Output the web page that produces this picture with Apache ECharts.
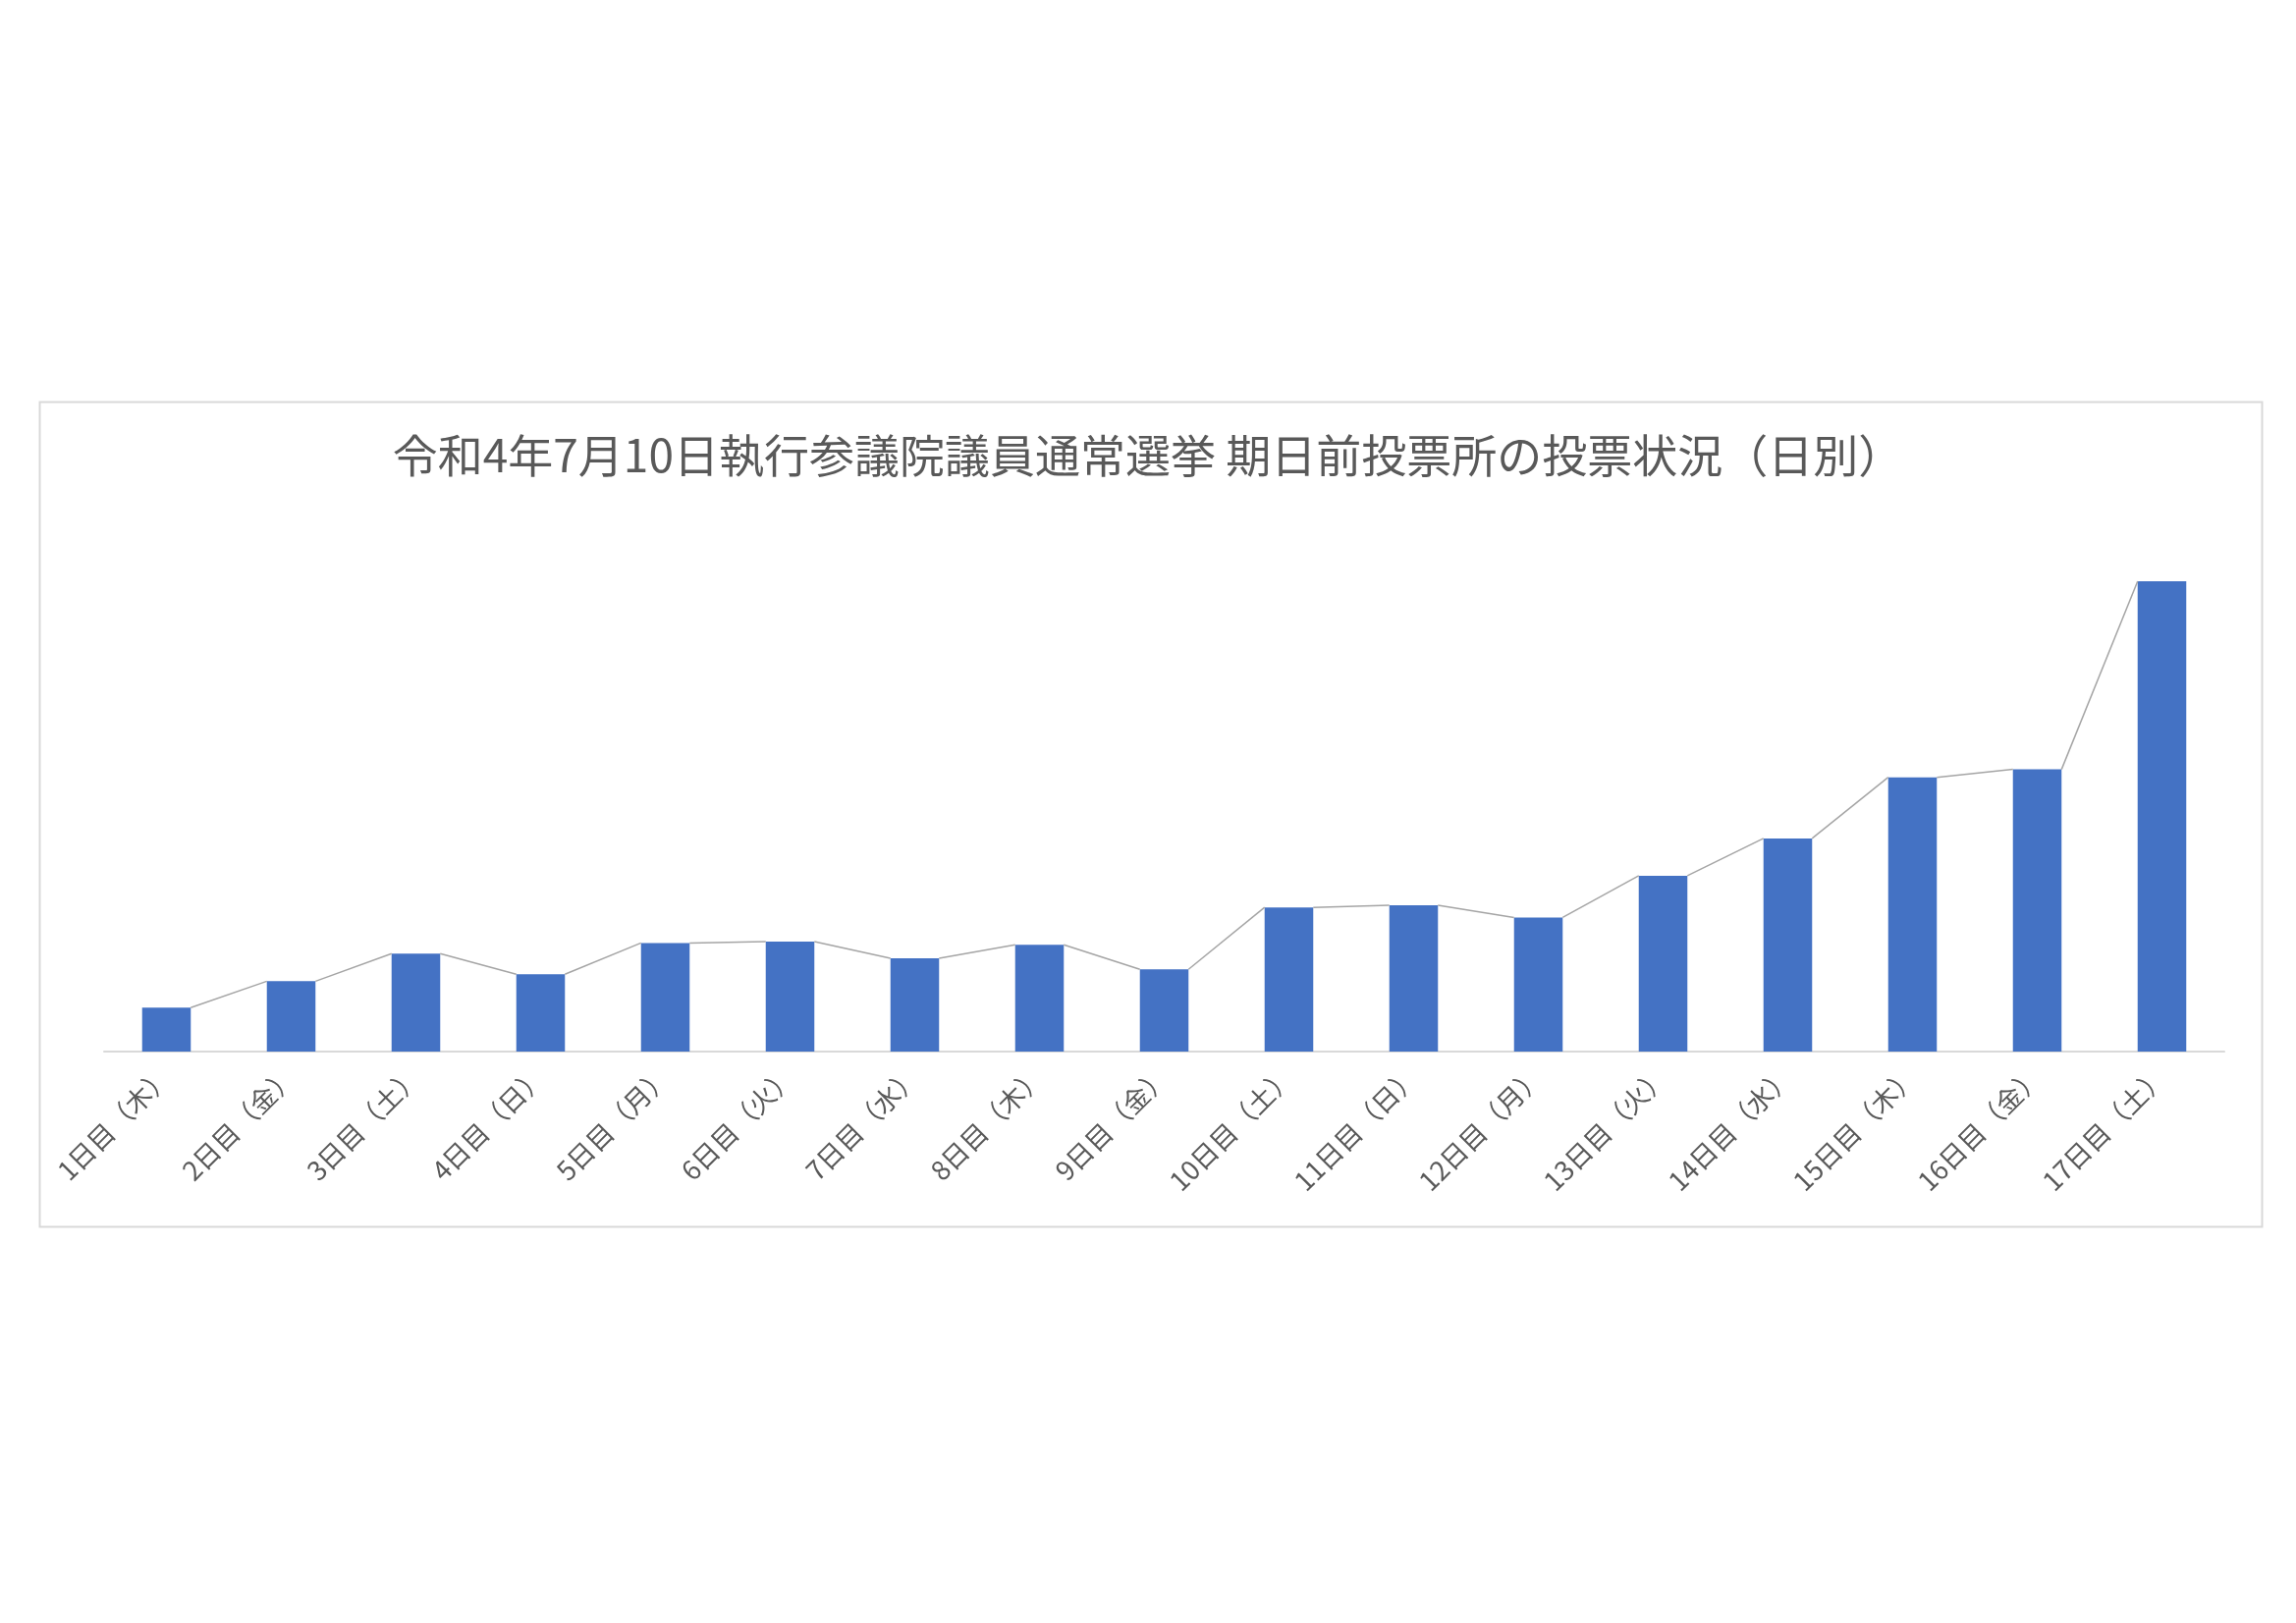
<!DOCTYPE html>
<html>
<head>
<meta charset="utf-8">
<title>期日前投票所の投票状況（日別）</title>
<script src="https://cdn.jsdelivr.net/npm/echarts@6/dist/echarts.min.js"></script>
<style>
    html, body { margin: 0; padding: 0; background: #fff; }
    #chart { width: 2338px; height: 1653px; }
</style>
</head>
<body>
<div id="chart"></div>
<script>
// 日別の期日前投票者数（グラフから読み取った概算値）
const days = [
    '1日目（木）', '2日目（金）', '3日目（土）', '4日目（日）', '5日目（月）', '6日目（火）',
    '7日目（水）', '8日目（木）', '9日目（金）', '10日目（土）', '11日目（日）', '12日目（月）',
    '13日目（火）', '14日目（水）', '15日目（木）', '16日目（金）', '17日目（土）'
];
const voters = [1000, 1600, 2230, 1760, 2470, 2500, 2120, 2430, 1870, 3280, 3330, 3050, 4000, 4850, 6240, 6420, 10700];
const chartTitle = '令和4年7月10日執行参議院議員通常選挙 期日前投票所の投票状況（日別）';

const FONT = '"Noto Sans CJK JP", "Noto Sans", sans-serif';
const BAR_RATIO = 0.39;

// 系列線: 棒の右上から次の棒の左上へ
const links = voters.slice(0, -1).map((v, i) => [i, v, i + 1, voters[i + 1]]);

const chart = echarts.init(document.getElementById('chart'));

const options = {
    backgroundColor: '#fff',
    animation: false,
    title: {
        text: chartTitle,
        left: 'center',
        top: 436,
        textStyle: {
            fontFamily: FONT,
            fontSize: 46,
            fontWeight: 'normal',
            color: '#595959'
        }
    },
    graphic: [{
        type: 'rect',
        left: 38,
        top: 407,
        shape: { width: 2263, height: 840 },
        style: { fill: 'none', stroke: '#d9d9d9', lineWidth: 2 },
        silent: true
    }],
    grid: {
        left: 106,
        right: 73,
        top: 592,
        bottom: 582
    },
    xAxis: {
        type: 'category',
        data: days,
        axisLine: { lineStyle: { color: '#d9d9d9', width: 2 } },
        axisTick: { show: false },
        axisLabel: {
            rotate: 45,
            interval: 0,
            margin: 20,
            fontFamily: FONT,
            fontSize: 27,
            color: '#595959'
        }
    },
    yAxis: {
        type: 'value',
        min: 0,
        max: 'dataMax',
        show: false,
        splitLine: { show: false }
    },
    series: [
        {
            type: 'bar',
            data: voters,
            barWidth: (BAR_RATIO * 100) + '%',
            itemStyle: { color: '#4472c4' },
            z: 2
        },
        {
            type: 'custom',
            data: links,
            z: 3,
            silent: true,
            renderItem(params, api) {
                const start = api.coord([api.value(0), api.value(1)]);
                const end = api.coord([api.value(2), api.value(3)]);
                const half = api.size([1, 0])[0] * BAR_RATIO / 2;
                return {
                    type: 'line',
                    shape: {
                        x1: start[0] + half,
                        y1: start[1],
                        x2: end[0] - half,
                        y2: end[1]
                    },
                    style: { stroke: '#a5a5a5', lineWidth: 1.5 }
                };
            }
        }
    ]
};

chart.setOption(options);
</script>
</body>
</html>
